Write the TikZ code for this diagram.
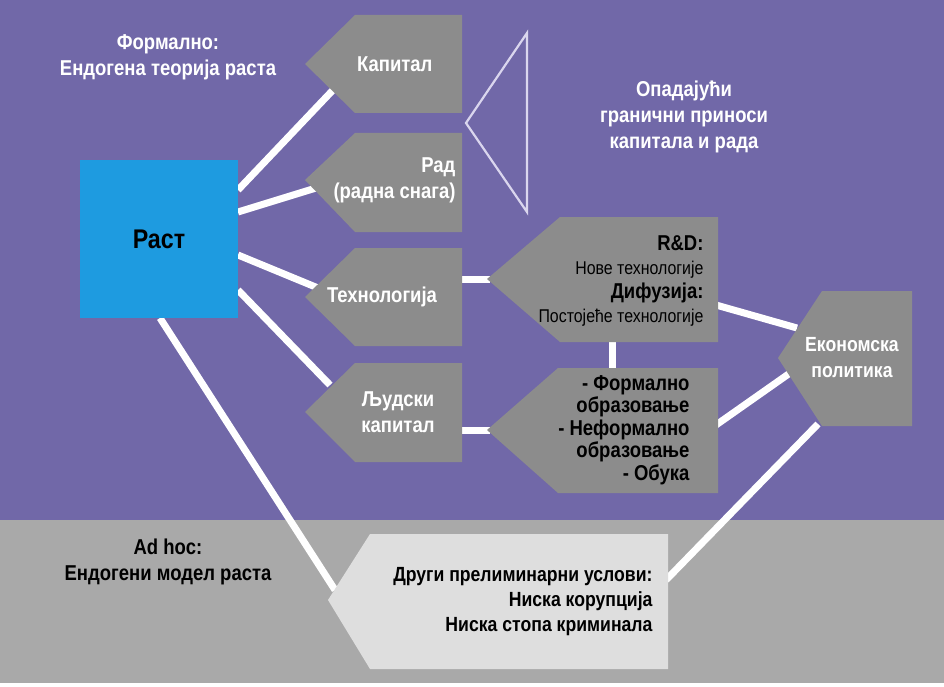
\documentclass[tikz,border=0pt]{standalone}
\usepackage{fontspec}
\setmainfont{Liberation Sans}[FakeStretch=0.86]
\definecolor{bgp}{HTML}{7168A8}
\definecolor{bgg}{HTML}{A9A9A9}
\definecolor{boxg}{HTML}{8C8C8C}
\definecolor{boxl}{HTML}{DEDEDE}
\definecolor{rast}{HTML}{1E9BE0}
\definecolor{tri}{HTML}{DAD6EE}
\tikzset{conn/.style={white,line width=7pt},
 lbl/.style={font=\bfseries\fontsize{21.5}{26}\selectfont,align=center}}
\begin{document}
\begin{tikzpicture}[x=1pt,y=-1pt]
\useasboundingbox (0,0) rectangle (944,687);
\fill[white] (0,0) rectangle (944,687);
\fill[bgp] (0,0) rectangle (944,520);
\fill[bgg] (0,520) rectangle (944,683);
% connectors
\coordinate (r1) at (238,190); \coordinate (k1) at (333,90);
\coordinate (r2) at (238,212); \coordinate (k2) at (316,188);
\coordinate (r3) at (238,255); \coordinate (k3) at (318,288);
\coordinate (r4) at (238,290); \coordinate (k4) at (330,385);
\coordinate (r5) at (160,318); \coordinate (k5) at (335,590);
\draw[conn] (r1)--(k1); \draw[conn] (r2)--(k2); \draw[conn] (r3)--(k3); \draw[conn] (r4)--(k4); \draw[conn] (r5)--(k5);
\coordinate (t1) at (462,279); \coordinate (t2) at (490,279);
\coordinate (l1) at (462,430); \coordinate (l2) at (490,430);
\draw[conn] (t1)--(t2); \draw[conn] (l1)--(l2);
\coordinate (v1) at (612,340); \coordinate (v2) at (612,370);
\draw[conn] (v1)--(v2);
\coordinate (e1) at (716,305); \coordinate (e2) at (797,328);
\coordinate (e3) at (716,425); \coordinate (e4) at (790,373);
\coordinate (e5) at (818,424); \coordinate (e6) at (666,580);
\draw[conn] (e1)--(e2); \draw[conn] (e3)--(e4); \draw[conn] (e5)--(e6);
% shapes
\fill[rast] (80,160) rectangle (238,318);
\node[lbl,font=\bfseries\fontsize{27}{30}\selectfont,text=black] (rast) at (159,239) {Раст};
\fill[boxg] (305,64) -- (355,15) -- (462,15) -- (462,113) -- (355,113) -- cycle;
\node[lbl,white,anchor=east] (kap) at (436,64) {Капитал};
\fill[boxg] (305,180) -- (355,133) -- (462,133) -- (462,232) -- (355,232) -- cycle;
\node[lbl,white,anchor=east] (rad) at (459,180) {\begin{tabular}{@{}r@{}}Рад\\(радна снага)\end{tabular}};
\fill[boxg] (305,297) -- (355,248) -- (462,248) -- (462,346) -- (355,346) -- cycle;
\node[lbl,white] (teh) at (382,297) {Технологија};
\fill[boxg] (305,412) -- (355,363) -- (462,363) -- (462,462) -- (355,462) -- cycle;
\node[lbl,white] (ljud) at (398,412) {Људски\\капитал};
\fill[boxg] (487,279) -- (560,217) -- (718,217) -- (718,342) -- (560,342) -- cycle;
\node[anchor=east,align=right,font=\fontsize{18.5}{24}\selectfont] (rd) at (707,281) {{\bfseries\fontsize{21.5}{24}\selectfont R\&D:}\\Нове технологије\\{\bfseries\fontsize{21.5}{24}\selectfont Дифузија:}\\Постојеће технологије};
\fill[boxg] (487,430) -- (558,368) -- (718,368) -- (718,493) -- (558,493) -- cycle;
\node[lbl,anchor=east,align=right,font=\bfseries\fontsize{21.5}{22.5}\selectfont] (obr) at (693,430) {- Формално\\образовање\\- Неформално\\образовање\\- Обука};
\fill[boxg] (778,358) -- (822,291) -- (912,291) -- (912,426) -- (822,426) -- cycle;
\node[lbl,white,font=\bfseries\fontsize{20.5}{26}\selectfont] (ek) at (852,358) {Економска\\политика};
\fill[boxl] (328,600) -- (370,534) -- (668,534) -- (668,669) -- (370,669) -- cycle;
\node[anchor=east,align=right,font=\bfseries\fontsize{20.5}{25}\selectfont] (dr) at (656,602) {Други прелиминарни услови:\\Ниска корупција\\Ниска стопа криминала};
\coordinate (ta) at (466,123); \coordinate (tb) at (527,33); \coordinate (tc) at (527,212);
\draw[tri,line width=2.2pt] (ta)--(tb)--(tc)--cycle;
% labels
\node[lbl,white] (form) at (168,57) {Формално:\\Ендогена теорија раста};
\node[lbl,white] (opad) at (684,117) {Опадајући\\гранични приноси\\капитала и рада};
\node[lbl,black] (adhoc) at (168,562) {Ad hoc:\\Ендогени модел раста};
\end{tikzpicture}
\end{document}
